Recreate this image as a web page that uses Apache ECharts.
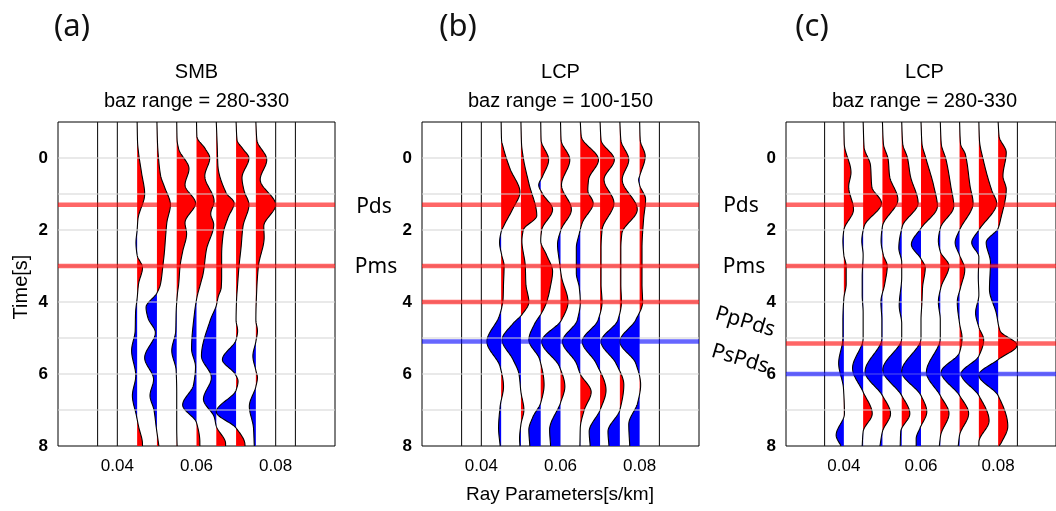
<!DOCTYPE html>
<html><head><meta charset="utf-8">
<script src="https://cdn.jsdelivr.net/npm/echarts@6/dist/echarts.min.js"></script>
<style>html,body{margin:0;padding:0;background:#fff}#chart{width:1056px;height:511px}</style>
</head><body><div id="chart"></div>
<script>
// ---------------- data ----------------
const rayParams = [0.035,0.04,0.045,0.05,0.055,0.06,0.065,0.07,0.075,0.08,0.085];
const xTickLabels = [0.04,0.06,0.08];
const yTickLabels = [0,2,4,6,8];
const panelLetters = ['(a)','(b)','(c)'];
const stations = ['SMB','LCP','LCP'];
const bazRanges = ['baz range = 280-330','baz range = 100-150','baz range = 280-330'];
const xLabel = 'Ray Parameters[s/km]';
const yLabel = 'Time[s]';
// phase marker times (s)
const redTimesA = [1.3, 3.0];
const blueTimesA = [];
const redTimesB = [1.3, 3.0, 4.0];
const blueTimesB = [5.1];
const redTimesC = [1.3, 3.0, 5.15];
const blueTimesC = [6.0];
const phaseNames = ['Pds','Pms','PpPds','PsPds'];

// traces: [time (s), amplitude in units of one trace spacing]
// panel (a) SMB 280-330
const a045 = [[-1,0],[-0.45,0.02],[-0.15,0.07],[0.4,0.22],[1.0,0.38],[1.7,0.04],[2.0,0],[2.35,-0.06],[2.7,0],[3.05,0.27],[3.5,0.07],[3.9,0],[4.3,-0.08],[4.8,-0.1],[5.35,-0.28],[6.05,-0.07],[6.6,-0.24],[7.15,-0.04],[7.45,0.07],[7.95,0.27],[8,0.27]];
const a050 = [[-1,0],[-0.4,0.03],[0,0.08],[0.5,0.19],[0.8,0.38],[1.3,0.68],[1.8,0.5],[2.1,0.45],[2.6,0.38],[3.0,0.3],[3.5,0.18],[3.75,0],[4.15,-0.55],[4.45,-0.45],[4.85,-0.08],[5.55,-0.62],[6.15,-0.17],[6.6,-0.35],[7.0,-0.15],[7.5,-0.03],[8,0.1]];
const a055 = [[-1,0],[-0.5,0.02],[-0.25,0.1],[0.3,0.62],[0.75,0.42],[1.25,0.95],[1.8,0.42],[2.1,0.5],[2.6,0.3],[3.0,0.17],[3.5,0.1],[3.75,0.04],[4.3,-0.03],[4.8,-0.05],[5.35,-0.25],[5.9,-0.03],[6.5,0],[7.5,0],[8,0.02]];
const a060 = [[-1,0],[-0.6,0.02],[-0.25,0.45],[0,0.67],[0.5,0.42],[1.2,0.89],[1.55,0.72],[1.85,0.87],[2.55,0.5],[3.2,0.34],[3.5,0.2],[3.85,0.03],[4.3,-0.1],[5.3,-0.25],[5.8,-0.05],[6.3,-0.15],[6.86,-0.7],[7.35,0],[7.9,0.17],[8,0.17]];
const a065 = [[-1,0],[-0.3,0.05],[0.2,0.08],[0.97,0.5],[1.25,0.9],[1.65,0.6],[2.1,0.35],[2.7,0.27],[3.3,0.27],[3.6,0.25],[3.85,0.1],[4.1,0],[4.5,-0.3],[5.5,-0.75],[6.1,-0.25],[6.7,-0.65],[7.2,-0.1],[7.45,0],[7.93,0.47],[8,0.47]];
const a070 = [[-1,0],[-0.5,0.05],[-0.25,0.35],[0,0.65],[0.55,0.3],[0.9,0.4],[1.3,0.65],[1.9,0.35],[2.5,0.25],[3.0,0.15],[3.5,0.08],[4.0,0.02],[4.5,0],[4.8,0.08],[5.05,0],[5.6,-0.69],[6.0,-0.05],[6.2,0.1],[6.45,0],[7.05,-1.0],[7.5,0],[7.97,0.45],[8,0.45]];
const a075 = [[-1,0],[-0.5,0.05],[0.05,0.55],[0.6,0.22],[1.3,1.0],[1.9,0.4],[2.2,0.42],[3.0,0.13],[3.6,0.05],[4.5,0],[4.8,0.08],[5.1,0],[5.5,-0.15],[5.9,0],[6.1,0.08],[6.35,0],[6.9,-0.33],[7.5,-0.12],[8,-0.08]];
// panel (b) LCP 100-150
const b045 = [[-1,0],[-0.5,0.02],[-0.3,0.1],[0.3,0.45],[0.95,0.95],[1.4,0.6],[1.9,0.12],[2.05,0],[2.35,-0.08],[2.7,0.03],[3.0,0.15],[3.5,0.12],[3.9,0.1],[4.15,0.03],[4.4,-0.1],[5.1,-0.72],[5.8,-0.05],[6.35,0.12],[6.9,-0.05],[7.5,-0.13],[8,-0.05]];
const b050 = [[-1,0],[-0.4,0.03],[0,0.12],[0.7,0.4],[1.6,0.8],[2.0,0.12],[2.3,0.05],[3.0,0.22],[3.5,0.25],[4.0,0.4],[4.35,0.05],[4.6,-0.4],[5.05,-0.95],[5.6,-0.4],[6.0,-0.1],[6.5,0],[7.0,0.15],[7.4,0],[7.8,-0.07],[8,-0.05]];
const b055 = [[-1,0],[-0.5,0.02],[0.05,0.4],[0.5,0.1],[0.75,-0.1],[1.0,0.1],[1.43,0.6],[2.0,0.05],[2.3,0],[2.7,0.3],[3.15,0.6],[3.6,0.48],[4.0,0.3],[4.3,0.05],[4.6,-0.3],[5.05,-0.6],[5.6,-0.05],[6.3,0.17],[6.8,0],[7.2,-0.4],[7.55,-0.6],[8,-0.55]];
const b060 = [[-1,0],[-0.5,0.03],[0.05,0.47],[0.75,0.05],[1.43,0.55],[2.0,0.02],[2.4,-0.15],[2.9,-0.05],[3.3,0.05],[4.0,0.38],[4.5,0.05],[5.1,-0.95],[5.8,-0.05],[6.35,0.22],[6.8,0],[7.55,-0.55],[8,-0.5]];
const b065 = [[-1,0],[-0.6,0.05],[0.05,0.92],[0.6,0.42],[0.9,0.38],[1.25,0.65],[1.8,0.1],[2.1,-0.05],[2.5,-0.2],[3.2,-0.2],[3.6,-0.05],[4.0,0],[4.5,-0.15],[5.1,-0.9],[5.7,-0.2],[6.0,0],[6.5,0.55],[7.0,0.2],[7.5,0],[8,-0.02]];
const b070 = [[-1,0],[-0.5,0.05],[0.05,0.72],[0.6,0.2],[1.25,0.7],[2.0,0.1],[2.5,0.05],[3.5,0.05],[4.0,0.1],[4.5,-0.1],[5.1,-0.9],[5.7,-0.2],[6.45,0.3],[7.0,0],[7.6,-0.55],[8,-0.5]];
const b075 = [[-1,0],[-0.5,0.05],[0.05,0.45],[0.6,0.12],[1.43,0.88],[2.1,0.1],[2.5,0.05],[3.5,0.05],[4.0,0.08],[4.5,-0.1],[5.1,-0.95],[5.7,-0.2],[6.3,0.2],[7.0,0],[7.6,-0.6],[8,-0.55]];
const b080 = [[-1,0],[-0.5,0.03],[-0.05,0.28],[0.5,0],[0.6,-0.05],[0.75,0],[1.15,0.3],[1.7,0.2],[2.5,0.12],[3.5,0.12],[4.0,0.15],[4.5,-0.2],[5.1,-1.0],[5.7,-0.2],[6.3,0.05],[6.8,-0.1],[7.4,-0.55],[8,-0.5]];
// panel (c) LCP 280-330
const c040 = [[-1,0],[-0.4,0.02],[0.4,0.37],[0.8,0.25],[1.43,0.5],[2.0,0],[2.3,-0.05],[2.7,0],[3.0,0.12],[3.5,0.12],[3.9,0],[4.5,-0.05],[5.0,-0.05],[5.7,-0.27],[6.4,-0.02],[7.1,0.03],[7.7,-0.4],[8,-0.15]];
const c045 = [[-1,0],[-0.3,0.05],[0.2,0.38],[0.8,0.45],[1.25,0.95],[1.9,0.05],[2.3,-0.07],[2.7,0],[3.3,-0.05],[3.8,-0.05],[4.3,0],[5.0,0],[5.84,-0.55],[6.5,0],[7.1,0.47],[7.6,0],[8,-0.05]];
const c050 = [[-1,0],[-0.4,0.05],[0.05,0.3],[0.5,0.37],[1.15,0.8],[1.9,0],[2.3,-0.07],[2.7,0.05],[3.0,0.25],[3.5,0.12],[4.0,-0.08],[4.5,-0.03],[5.0,-0.03],[5.93,-0.9],[6.6,0],[7.1,0.42],[7.6,0],[8,-0.13]];
const c055 = [[-1,0],[-0.4,0.05],[0,0.3],[0.5,0.45],[1.25,0.85],[1.9,0.03],[2.5,-0.15],[2.9,0],[3.3,0],[4.1,-0.13],[4.6,0],[5.0,0],[5.88,-0.98],[6.6,0],[7.1,0.42],[7.6,-0.05],[8,-0.08]];
const c060 = [[-1,0],[-0.4,0.05],[0,0.25],[0.8,0.67],[1.34,0.85],[1.95,0],[2.4,-0.5],[2.8,0],[3.05,0.22],[3.6,0.08],[4.0,0.05],[4.5,0],[5.0,0],[5.93,-1.0],[6.6,0],[7.05,0.3],[7.5,-0.05],[7.8,-0.25],[8,-0.25]];
const c065 = [[-1,0],[-0.4,0.05],[0.05,0.3],[0.8,0.55],[1.34,0.7],[1.95,0],[2.3,-0.1],[2.6,0],[3.0,0.45],[3.6,0.03],[4.0,-0.1],[4.5,0],[5.0,0],[5.95,-0.72],[6.6,0],[7.1,0.45],[7.7,0.02],[8,-0.05]];
const c070 = [[-1,0],[-0.4,0.05],[-0.1,0.3],[0.8,0.55],[1.25,0.7],[2.0,0],[2.35,-0.23],[2.7,0],[3.1,0.27],[3.6,0.05],[4.0,-0.12],[4.6,0],[5.0,0.13],[5.4,0],[5.95,-0.95],[6.6,0],[7.1,0.47],[7.7,0],[8,-0.07]];
const c075 = [[-1,0],[-0.5,0.03],[0.1,0.25],[0.9,0.67],[1.25,0.92],[2.0,0],[2.35,-0.37],[2.75,0],[3.3,-0.03],[3.8,0],[4.3,-0.17],[4.7,0],[5.05,0.25],[5.5,0],[6.0,-0.92],[6.6,0],[7.3,0.53],[7.9,0],[8,0]];
const c080 = [[-1,0],[-0.6,0.05],[-0.15,0.42],[0.5,0.25],[0.87,0.42],[1.7,0.13],[1.95,0],[2.35,-0.62],[2.9,-0.4],[3.65,-0.45],[4.3,-0.1],[4.8,0.1],[5.2,0.98],[5.6,0],[6.03,-1.0],[6.6,0],[7.45,0.5],[7.9,0.17],[8,0.05]];

const tracesA = [[0.045,a045],[0.05,a050],[0.055,a055],[0.06,a060],[0.065,a065],[0.07,a070],[0.075,a075]];
const tracesB = [[0.045,b045],[0.05,b050],[0.055,b055],[0.06,b060],[0.065,b065],[0.07,b070],[0.075,b075],[0.08,b080]];
const tracesC = [[0.04,c040],[0.045,c045],[0.05,c050],[0.055,c055],[0.06,c060],[0.065,c065],[0.07,c070],[0.075,c075],[0.08,c080]];

// ---------------- layout / style ----------------
const P_MIN = 0.025, P_MAX = 0.095, T_MIN = -1, T_MAX = 8;
const AMP = 0.005; // one trace spacing in s/km
const gridLefts = [58, 422, 786];
const GRID_TOP = 122, GRID_W = 277, GRID_H = 324;

// monotone cubic (Fritsch-Carlson) drawing of the curve through the read points
function densify(pts, step) {
  const n = pts.length, ts = pts.map(p => p[0]), as = pts.map(p => p[1]);
  const d = [], m = new Array(n);
  for (let i = 0; i < n - 1; i++) d.push((as[i+1]-as[i])/(ts[i+1]-ts[i]));
  m[0] = d[0]; m[n-1] = d[n-2];
  for (let i = 1; i < n - 1; i++) {
    if (d[i-1]*d[i] <= 0) m[i] = 0;
    else {
      const h0 = ts[i]-ts[i-1], h1 = ts[i+1]-ts[i];
      const w1 = 2*h1 + h0, w2 = h1 + 2*h0;
      m[i] = (w1 + w2) / (w1/d[i-1] + w2/d[i]);
    }
  }
  const out = [];
  for (let i = 0; i < n - 1; i++) {
    const h = ts[i+1]-ts[i], k = Math.max(2, Math.ceil(h/step));
    for (let j = 0; j < k; j++) {
      const s = j/k, s2 = s*s, s3 = s2*s;
      out.push([ts[i]+s*h, (2*s3-3*s2+1)*as[i] + (s3-2*s2+s)*h*m[i] + (-2*s3+3*s2)*as[i+1] + (s3-s2)*h*m[i+1]]);
    }
  }
  out.push([ts[n-1], as[n-1]]);
  return out;
}

function wiggleSeries(gi, traces) {
  return {
    type: 'custom', xAxisIndex: gi, yAxisIndex: gi, z: 2, clip: true, silent: true,
    data: rayParams.map(p => [p, 0]),
    renderItem: function (params, api) {
      const p = rayParams[params.dataIndex];
      const tr = traces.find(d => Math.abs(d[0] - p) < 1e-9);
      if (!tr) {
        const a = api.coord([p, T_MIN]), b = api.coord([p, T_MAX]);
        return { type: 'line', shape: { x1: a[0], y1: a[1], x2: b[0], y2: b[1] }, style: { stroke: '#1a1a1a', lineWidth: 1.1 } };
      }
      const dense = densify(tr[1], 0.02);
      const line = dense.map(q => api.coord([p + q[1]*AMP, q[0]]));
      const posPts = dense.map(q => api.coord([p + Math.max(q[1], 0)*AMP, q[0]]));
      const negPts = dense.map(q => api.coord([p + Math.min(q[1], 0)*AMP, q[0]]));
      const bEnd = api.coord([p, dense[dense.length-1][0]]), bStart = api.coord([p, dense[0][0]]);
      posPts.push(bEnd, bStart); negPts.push(bEnd, bStart);
      return { type: 'group', children: [
        { type: 'polygon', shape: { points: posPts }, style: { fill: '#ff0000', stroke: null } },
        { type: 'polygon', shape: { points: negPts }, style: { fill: '#0000ff', stroke: null } },
        { type: 'polyline', shape: { points: line }, style: { stroke: '#000', lineWidth: 1.1, fill: null } }
      ]};
    }
  };
}

function hLineSeries(gi, times, color, width, z) {
  return {
    type: 'custom', xAxisIndex: gi, yAxisIndex: gi, z: z, clip: true, silent: true,
    data: times.map(t => [P_MIN, t]),
    renderItem: function (params, api) {
      const t = api.value(1);
      const a = api.coord([P_MIN, t]), b = api.coord([P_MAX, t]);
      return { type: 'line', shape: { x1: a[0], y1: a[1], x2: b[0], y2: b[1] }, style: { stroke: color, lineWidth: width } };
    }
  };
}

const gridTimes = [];
for (let t = T_MIN + 1; t < T_MAX; t++) gridTimes.push(t);

const allTraces = [tracesA, tracesB, tracesC];
const allRed = [redTimesA, redTimesB, redTimesC];
const allBlue = [blueTimesA, blueTimesB, blueTimesC];

const grids = [], xAxes = [], yAxes = [], series = [], graphics = [];
for (let i = 0; i < 3; i++) {
  grids.push({ left: gridLefts[i], top: GRID_TOP, width: GRID_W, height: GRID_H, show: true, borderColor: '#000', borderWidth: 1, backgroundColor: '#fff' });
  xAxes.push({ gridIndex: i, type: 'value', min: P_MIN, max: P_MAX,
    axisLine: { show: false }, axisTick: { show: false }, splitLine: { show: false },
    axisLabel: { customValues: xTickLabels, formatter: v => v.toFixed(2), fontSize: 17, color: '#000', margin: 12, fontFamily: 'Liberation Sans' } });
  yAxes.push({ gridIndex: i, type: 'value', inverse: true, min: T_MIN, max: T_MAX, interval: 1,
    axisLine: { show: false }, axisTick: { show: false }, splitLine: { show: false },
    axisLabel: { customValues: yTickLabels, fontSize: 17, fontWeight: 'bold', color: '#000', margin: 10, fontFamily: 'Liberation Sans' } });
  series.push(wiggleSeries(i, allTraces[i]));
  series.push(hLineSeries(i, gridTimes, '#d4d4d4', 1.2, 3));
  series.push(hLineSeries(i, allRed[i], 'rgba(255,0,0,0.6)', 4.5, 4));
  series.push(hLineSeries(i, allBlue[i], 'rgba(0,0,255,0.6)', 4.5, 4));
  const cx = gridLefts[i] + GRID_W / 2;
  graphics.push({ type: 'text', x: cx, y: 72, style: { text: stations[i], font: '20px "Liberation Sans"', fill: '#000', textAlign: 'center', textVerticalAlign: 'middle' } });
  graphics.push({ type: 'text', x: cx, y: 101, style: { text: bazRanges[i], font: '20px "Liberation Sans"', fill: '#000', textAlign: 'center', textVerticalAlign: 'middle' } });
}
const letterX = [72, 458, 812];
for (let i = 0; i < 3; i++) {
  graphics.push({ type: 'text', x: letterX[i], y: 27, style: { text: panelLetters[i], font: '31px "Noto Sans"', fill: '#111', textAlign: 'center', textVerticalAlign: 'middle' } });
}
const phaseFont = '21px "Noto Sans"';
const phaseLabels = [
  [phaseNames[0], 374, 207, 0], [phaseNames[1], 376, 267, 0],
  [phaseNames[0], 741, 206, 0], [phaseNames[1], 744, 267, 0],
  [phaseNames[2], 745, 322, -0.29], [phaseNames[3], 740, 359, -0.29]
];
phaseLabels.forEach(l => graphics.push({ type: 'text', x: l[1], y: l[2], rotation: l[3], style: { text: l[0], font: phaseFont, fill: '#000', textAlign: 'center', textVerticalAlign: 'middle' } }));
graphics.push({ type: 'text', x: 21, y: 287, rotation: Math.PI / 2, style: { text: yLabel, font: '20px "Liberation Sans"', fill: '#000', textAlign: 'center', textVerticalAlign: 'middle' } });
graphics.push({ type: 'text', x: 560, y: 495, style: { text: xLabel, font: '19px "Liberation Sans"', fill: '#000', textAlign: 'center', textVerticalAlign: 'middle' } });

const chart = echarts.init(document.getElementById('chart'), null, { renderer: 'canvas' });
chart.setOption({
  animation: false,
  backgroundColor: '#fff',
  grid: grids, xAxis: xAxes, yAxis: yAxes, series: series, graphic: graphics
});
</script></body></html>
